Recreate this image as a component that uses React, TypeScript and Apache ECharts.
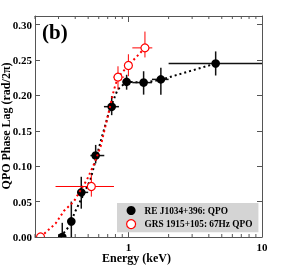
import React, { useEffect, useRef } from "react";
import * as echarts from "echarts";

// RE J1034+396 (black filled)
const energyBlack = [0.32, 0.374, 0.444, 0.569, 0.75, 0.97, 1.3, 1.75, 4.5];
const lagBlack = [0.0, 0.022, 0.063, 0.115, 0.184, 0.219, 0.218, 0.2225, 0.245];
const eLoBlack = [0.305, 0.36, 0.42, 0.52, 0.656, 0.906, 1.07, 1.5, 2.0];
const eHiBlack = [0.335, 0.39, 0.5, 0.66, 0.85, 1.07, 1.5, 2.0, 10];
const lagLoBlack = [0.0, 0.0, 0.04, 0.104, 0.172, 0.208, 0.201, 0.201, 0.228];
const lagHiBlack = [0.02, 0.05, 0.085, 0.13, 0.199, 0.229, 0.234, 0.239, 0.262];

// GRS 1915+105 (red open)
const energyRed = [0.22, 0.528, 0.836, 1.0, 1.33];
const lagRed = [0.0, 0.0713, 0.2257, 0.2422, 0.267];
const eLoRed = [0.215, 0.285, 0.77, 0.93, 1.07];
const eHiRed = [0.225, 0.78, 0.93, 1.07, 1.51];
const lagLoRed = [0.0, 0.057, 0.208, 0.227, 0.2535];
const lagHiRed = [0.003, 0.088, 0.241, 0.258, 0.29];

// model curves (dotted)
const modelRedE = [0.22, 0.285, 0.33, 0.39, 0.49, 0.56, 0.62, 0.7, 0.78, 0.836, 1.0, 1.33];
const modelRedLag = [0, 0.019, 0.037, 0.05, 0.081, 0.105, 0.128, 0.17, 0.208, 0.2257, 0.2422, 0.267];
const modelBlackE = [0.31, 0.36, 0.4, 0.44, 0.52, 0.62, 0.72, 0.83, 0.97, 1.3, 1.75, 4.5];
const modelBlackLag = [0, 0.015, 0.036, 0.052, 0.081, 0.135, 0.178, 0.208, 0.219, 0.218, 0.222, 0.245];

const minorTicks = [0.2, 0.3, 0.4, 0.5, 0.6, 0.7, 0.8, 0.9, 2, 3, 4, 5, 6, 7, 8, 9];
const yTicks = [0, 0.05, 0.1, 0.15, 0.2, 0.25, 0.3];

const FONT = "Liberation Serif";
const AXIS_COLOR = "#555";
const RED = "#ff0000";

function zip(...arrs: number[][]) {
  return arrs[0].map((_, i) => arrs.map((a) => a[i]));
}

// error bars + marker, clipped to the plotting area
function pointRender(barColor: string, barWidth: number, fill: string, stroke: string | null, r: number) {
  return (params: any, api: any) => {
    const x = api.value(0);
    const y = api.value(1);
    const a = api.coord([api.value(2), y]);
    const b = api.coord([api.value(3), y]);
    const c = api.coord([x, api.value(4)]);
    const d = api.coord([x, api.value(5)]);
    const p = api.coord([x, y]);
    const style = { stroke: barColor, lineWidth: barWidth };
    const cs = params.coordSys;
    return {
      type: "group",
      clipPath: { type: "rect", shape: { x: cs.x, y: cs.y, width: cs.width, height: cs.height } },
      children: [
        { type: "line", shape: { x1: a[0], y1: a[1], x2: b[0], y2: b[1] }, style },
        { type: "line", shape: { x1: c[0], y1: c[1], x2: d[0], y2: d[1] }, style },
        {
          type: "circle",
          shape: { cx: p[0], cy: p[1], r },
          style: stroke ? { fill, stroke, lineWidth: 1.2 } : { fill },
        },
      ],
    };
  };
}

export default function App() {
  const ref = useRef<HTMLDivElement>(null);
  useEffect(() => {
    if (!ref.current) return;
    const chart = echarts.init(ref.current, null, { renderer: "svg" });
    const xLabel = (v: number) => {
      if (Math.abs(v - 1) < 1e-6) return "1";
      if (Math.abs(v - 10) < 1e-6) return "10";
      return "";
    };
    const yLabel = (v: number) => {
      if (yTicks.some((t) => Math.abs(t - v) < 1e-6)) return v.toFixed(2);
      return "";
    };
    chart.setOption({
      animation: false,
      grid: { left: 35, right: 30, top: 16, bottom: 33, containLabel: false, outerBoundsMode: "none" },
      xAxis: [
        {
          type: "log",
          logBase: 10,
          min: 0.2,
          max: 10,
          axisLine: { show: true, onZero: false, lineStyle: { color: AXIS_COLOR, width: 1 } },
          axisTick: { show: true, inside: true, length: 6, lineStyle: { color: AXIS_COLOR } },
          axisLabel: {
            formatter: xLabel,
            fontFamily: FONT,
            fontWeight: "bold",
            fontSize: 11,
            color: "#000",
            margin: 4,
            showMinLabel: false,
          },
          splitLine: { show: false },
        },
        {
          type: "log",
          logBase: 10,
          min: 0.2,
          max: 10,
          position: "top",
          axisLine: { show: true, onZero: false, lineStyle: { color: AXIS_COLOR, width: 1 } },
          axisTick: { show: true, inside: true, length: 6, lineStyle: { color: AXIS_COLOR } },
          axisLabel: { show: false },
          splitLine: { show: false },
        },
      ],
      yAxis: [
        {
          type: "value",
          min: 0,
          max: 0.312,
          interval: 0.05,
          axisLine: { show: true, onZero: false, lineStyle: { color: AXIS_COLOR, width: 1 } },
          axisTick: { show: true, inside: true, length: 5, lineStyle: { color: AXIS_COLOR } },
          axisLabel: {
            formatter: yLabel,
            fontFamily: FONT,
            fontWeight: "bold",
            fontSize: 11,
            color: "#000",
            margin: 3,
            showMaxLabel: false,
          },
          splitLine: { show: false },
        },
        {
          type: "value",
          min: 0,
          max: 0.312,
          interval: 0.05,
          position: "right",
          axisLine: { show: true, onZero: false, lineStyle: { color: AXIS_COLOR, width: 1 } },
          axisTick: { show: true, inside: true, length: 5, lineStyle: { color: AXIS_COLOR } },
          axisLabel: { show: false },
          splitLine: { show: false },
        },
      ],
      legend: {
        left: 117,
        top: 203,
        orient: "vertical",
        backgroundColor: "#d4d4d4",
        padding: [3, 6, 3, 9],
        itemGap: 4,
        itemWidth: 9,
        itemHeight: 9,
        textStyle: { fontFamily: FONT, fontWeight: "bold", fontSize: 9.3, color: "#000", padding: [0, 0, 0, 4] },
        data: [
          { name: "RE J1034+396: QPO", icon: "circle", itemStyle: { color: "#000" } },
          {
            name: "GRS 1915+105: 67Hz QPO",
            icon: "circle",
            itemStyle: { color: "#fff", borderColor: RED, borderWidth: 1.2 },
          },
        ],
      },
      graphic: [
        {
          type: "text",
          left: 42,
          top: 21,
          style: { text: "(b)", fontFamily: FONT, fontWeight: "bold", fontSize: 21, fill: "#000" },
        },
        {
          type: "text",
          left: 102,
          top: 252,
          style: { text: "Energy (keV)", fontFamily: FONT, fontWeight: "bold", fontSize: 12, fill: "#000" },
        },
        {
          type: "text",
          x: 6,
          y: 126,
          rotation: Math.PI / 2,
          style: {
            text: "QPO Phase Lag (rad/2\u03c0)",
            fontFamily: FONT,
            fontWeight: "bold",
            fontSize: 12,
            fill: "#000",
            align: "center",
            verticalAlign: "middle",
          },
        },
      ],
      series: [
        {
          type: "custom",
          name: "minorTicks",
          xAxisIndex: 0,
          yAxisIndex: 0,
          silent: true,
          renderItem: (params: any, api: any) => {
            const cs = params.coordSys;
            const p = api.coord([api.value(0), 0]);
            const style = { stroke: AXIS_COLOR, lineWidth: 1 };
            return {
              type: "group",
              children: [
                { type: "line", shape: { x1: p[0], y1: cs.y + cs.height, x2: p[0], y2: cs.y + cs.height - 3 }, style },
                { type: "line", shape: { x1: p[0], y1: cs.y, x2: p[0], y2: cs.y + 3 }, style },
              ],
            };
          },
          data: minorTicks.map((v) => [v, 0]),
          encode: { x: 0, y: 1 },
          z: 1,
        },
        {
          type: "line",
          name: "modelBlack",
          data: zip(modelBlackE, modelBlackLag),
          showSymbol: false,
          symbol: "none",
          lineStyle: { color: "#000", width: 2, type: [2, 3] },
          z: 2,
        },
        {
          type: "custom",
          name: "RE J1034+396: QPO",
          renderItem: pointRender("#111", 1.5, "#000", null, 4.3),
          itemStyle: { color: "#000" },
          data: zip(energyBlack, lagBlack, eLoBlack, eHiBlack, lagLoBlack, lagHiBlack),
          encode: { x: 0, y: 1 },
          z: 3,
        },
        {
          type: "line",
          name: "modelRed",
          data: zip(modelRedE, modelRedLag),
          showSymbol: false,
          symbol: "none",
          lineStyle: { color: RED, width: 2, type: [2, 3] },
          z: 5,
        },
        {
          type: "custom",
          name: "GRS 1915+105: 67Hz QPO",
          renderItem: pointRender(RED, 1, "#fff", RED, 4),
          itemStyle: { color: "#fff", borderColor: RED, borderWidth: 1.2 },
          data: zip(energyRed, lagRed, eLoRed, eHiRed, lagLoRed, lagHiRed),
          encode: { x: 0, y: 1 },
          z: 6,
        },
      ],
    });
    return () => chart.dispose();
  }, []);
  return <div ref={ref} style={{ position: "fixed", left: 0, top: 0, width: 292, height: 270 }} />;
}
